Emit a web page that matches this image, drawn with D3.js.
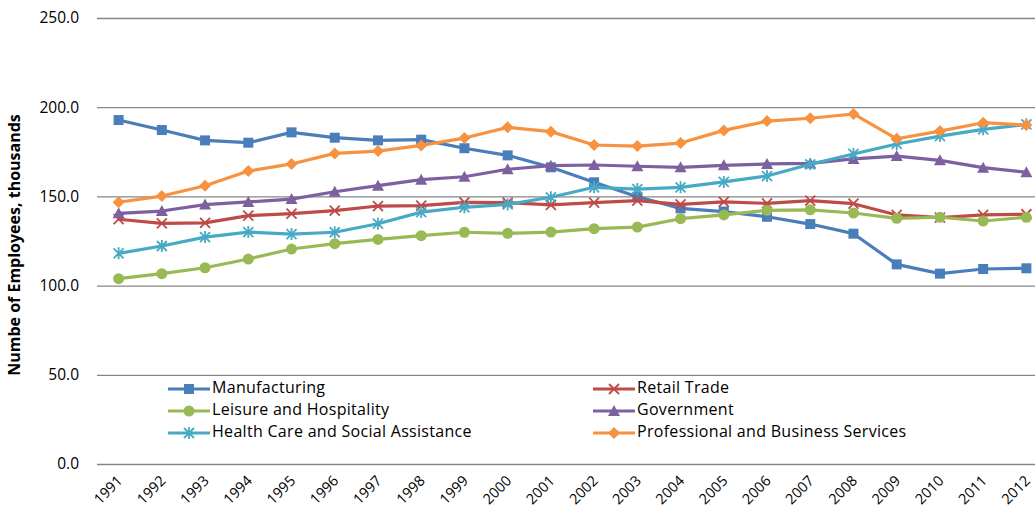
<!DOCTYPE html>
<html>
<head>
<meta charset="utf-8">
<script src="https://cdn.jsdelivr.net/npm/d3@7"></script>
<style>
  html, body { margin: 0; padding: 0; background: #fff; }
  svg { display: block; }
  text { font-family: "Open Sans", Lato, sans-serif; fill: #000; }
</style>
</head>
<body>
<svg id="chart" width="1035" height="521"></svg>
<script>
// Employment by industry, thousands of employees
const years = ["1991","1992","1993","1994","1995","1996","1997","1998","1999","2000","2001",
               "2002","2003","2004","2005","2006","2007","2008","2009","2010","2011","2012"];

const manufacturing = [192.8,187.2,181.4,180.1,185.9,182.9,181.4,181.8,177.0,173.0,166.3,
                       157.9,149.8,143.3,141.5,138.6,134.5,129.1,111.9,106.7,109.3,109.7];
const retailTrade   = [137.2,134.9,135.2,139.2,140.3,142.0,144.6,144.8,146.7,146.5,145.2,
                       146.5,147.6,145.5,146.9,146.1,147.6,145.9,139.6,138.1,139.6,140.0];
const leisure       = [103.9,106.7,110.0,114.9,120.5,123.5,125.9,128.0,129.9,129.3,130.0,
                       131.9,132.8,137.5,139.6,142.2,142.5,140.7,137.7,138.3,136.2,138.3];
const government    = [140.5,141.8,145.4,146.9,148.5,152.6,156.0,159.4,161.0,165.2,167.2,
                       167.6,166.9,166.3,167.4,168.2,168.5,171.0,172.6,170.2,166.1,163.5];
const healthCare    = [118.1,122.2,127.2,130.0,128.9,129.9,134.7,141.2,143.9,145.5,149.5,
                       155.1,154.1,155.1,158.1,161.4,168.0,173.8,179.4,183.8,187.6,190.4];
const professional  = [146.7,150.2,156.0,164.2,168.2,174.1,175.4,178.6,182.7,188.7,186.3,
                       178.8,178.2,179.9,187.0,192.2,193.8,196.2,182.3,186.6,191.3,190.0];

const yTicks = [0, 50, 100, 150, 200, 250];

const seriesNames  = ["Manufacturing","Retail Trade","Leisure and Hospitality","Government",
                      "Health Care and Social Assistance","Professional and Business Services"];
const seriesValues = [manufacturing, retailTrade, leisure, government, healthCare, professional];
const seriesColors = ["#4A7EBB","#BE4B48","#98B954","#7D60A0","#46AAC5","#F69240"];
const seriesMarkers = ["square","x","circle","triangle","star","diamond"];

const svg = d3.select("#chart");

const plot = { left: 97, right: 1048, top: 18, bottom: 464 };

const x = d3.scalePoint().domain(years).range([plot.left, plot.right]).padding(0.5);
const y = d3.scaleLinear().domain([0, 250]).range([plot.bottom, plot.top]);

// horizontal gridlines with tick labels
const yAxis = d3.axisLeft(y).tickValues(yTicks).tickFormat(d3.format(".1f"))
  .tickSize(-(plot.right - plot.left)).tickPadding(18);
const gy = svg.append("g").attr("transform", `translate(${plot.left},0)`).call(yAxis);
gy.select(".domain").remove();
gy.selectAll(".tick line").attr("stroke", "#868686").attr("stroke-width", 1.3);
gy.selectAll(".tick text").attr("font-size", 15.5).attr("fill", "#000")
  .attr("font-family", "'Open Sans', sans-serif");

// x-axis category labels, rotated
const gx = svg.append("g");
gx.selectAll("text").data(years).enter().append("text")
  .attr("transform", d => `translate(${x(d) + 2},${plot.bottom + 15}) rotate(-45)`)
  .attr("text-anchor", "end")
  .attr("dominant-baseline", "middle")
  .attr("font-size", 14.5)
  .text(d => d);

// y-axis title
svg.append("text")
  .attr("transform", `translate(20,${(plot.top + plot.bottom) / 2 + 4}) rotate(-90)`)
  .attr("text-anchor", "middle")
  .attr("font-size", 16)
  .attr("font-weight", "bold")
  .text("Numbe of Employees, thousands");

// marker drawing
function drawMarker(g, type, color, cx, cy) {
  const s = 5;
  if (type === "square") {
    g.append("rect").attr("x", cx - s).attr("y", cy - s).attr("width", 2 * s).attr("height", 2 * s)
      .attr("fill", color);
  } else if (type === "circle") {
    g.append("circle").attr("cx", cx).attr("cy", cy).attr("r", s + 0.5).attr("fill", color);
  } else if (type === "triangle") {
    g.append("path").attr("d", `M${cx},${cy - s - 1}L${cx + s + 1},${cy + s}L${cx - s - 1},${cy + s}Z`)
      .attr("fill", color);
  } else if (type === "diamond") {
    g.append("path").attr("d", `M${cx},${cy - s - 1}L${cx + s + 1},${cy}L${cx},${cy + s + 1}L${cx - s - 1},${cy}Z`)
      .attr("fill", color);
  } else if (type === "x") {
    g.append("path").attr("d", `M${cx - s},${cy - s}L${cx + s},${cy + s}M${cx - s},${cy + s}L${cx + s},${cy - s}`)
      .attr("stroke", color).attr("stroke-width", 1.8).attr("fill", "none");
  } else if (type === "star") {
    g.append("path").attr("d", `M${cx - s},${cy - s}L${cx + s},${cy + s}M${cx - s},${cy + s}L${cx + s},${cy - s}M${cx},${cy - s - 1}L${cx},${cy + s + 1}`)
      .attr("stroke", color).attr("stroke-width", 1.8).attr("fill", "none");
  }
}

const line = d3.line().x((d, i) => x(years[i])).y(d => y(d));

seriesValues.forEach((vals, k) => {
  const g = svg.append("g");
  g.append("path").datum(vals)
    .attr("d", line)
    .attr("fill", "none")
    .attr("stroke", seriesColors[k])
    .attr("stroke-width", 3.2)
    .attr("stroke-linejoin", "round");
  vals.forEach((v, i) => drawMarker(g, seriesMarkers[k], seriesColors[k], x(years[i]), y(v)));
});

// legend: two columns, three rows
const legendCols = [168, 593];
const legendRows = [389, 411, 433];
seriesNames.forEach((name, k) => {
  const lx = legendCols[k % 2];
  const ly = legendRows[Math.floor(k / 2)];
  const g = svg.append("g");
  g.append("line").attr("x1", lx).attr("x2", lx + 42).attr("y1", ly).attr("y2", ly)
    .attr("stroke", seriesColors[k]).attr("stroke-width", 3.2);
  drawMarker(g, seriesMarkers[k], seriesColors[k], lx + 21, ly);
  g.append("text").attr("x", lx + 44).attr("y", ly).attr("dominant-baseline", "middle")
    .attr("font-size", 16).attr("letter-spacing", 0.3).text(name);
});
</script>
</body>
</html>
